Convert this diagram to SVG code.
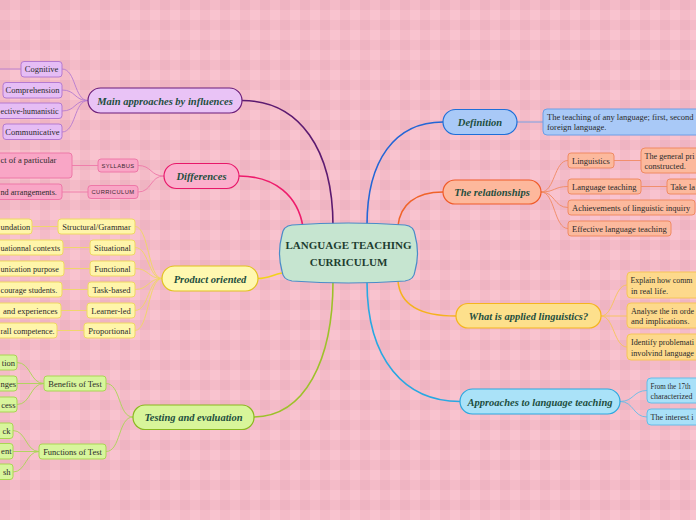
<svg xmlns="http://www.w3.org/2000/svg" width="696" height="520" viewBox="0 0 696 520">
<defs>
<pattern id="plaid" width="20" height="20" patternUnits="userSpaceOnUse">
<rect width="20" height="20" fill="#f9c3cf"/>
<rect x="0" y="0" width="10" height="20" fill="#c97a90" fill-opacity="0.1"/>
<rect x="0" y="0" width="20" height="10" fill="#c97a90" fill-opacity="0.1"/>
</pattern>
<style>
.main{font-family:"Liberation Serif",serif;font-style:italic;font-weight:bold;font-size:10.5px;fill:#1d4e3e;text-anchor:middle}
.sub{font-family:"Liberation Serif",serif;font-size:8.5px;fill:#2a2a2a}
.cut{font-size:8.2px}
.mid{text-anchor:middle}
.end{text-anchor:end}
.caps{font-family:"Liberation Sans",sans-serif;font-size:5.8px;letter-spacing:0.4px;fill:#3a2a30;text-anchor:middle}
.conn path{fill:none}
.mc{stroke-width:1.6}
.sc{stroke-width:0.9}
</style>
</defs>
<rect width="696" height="520" fill="url(#plaid)"/>

<g id="connectors" class="conn">
<path class="mc" stroke="#5c1a70" d="M242,100.5 C300,100.5 333,150 333,226"/>
<path class="mc" stroke="#ee1c6c" d="M239,176 C275,176 298,196 303,227"/>
<path class="mc" stroke="#f2d21b" d="M258,278.5 C268,278.5 272,275 282,273"/>
<path class="mc" stroke="#9dc12a" d="M253,417 C305,417 333,360 333,281"/>
<path class="mc" stroke="#2366d6" d="M443,122 C395,122 367,160 367,225"/>
<path class="mc" stroke="#f0642a" d="M443,192 C415,192 400,205 398,226"/>
<path class="mc" stroke="#f5b21d" d="M456,316 C420,316 400,305 398,281"/>
<path class="mc" stroke="#28a8e2" d="M460,401.5 C405,401.5 367,360 367,282"/>
<g stroke="#b57ad0" class="sc">
<path d="M88,100.5 C74,100.5 76,69 62,69"/>
<path d="M88,100.5 C74,100.5 76,90 62,90"/>
<path d="M88,100.5 C74,100.5 76,111 62,111"/>
<path d="M88,100.5 C74,100.5 76,132 62,132"/>
<path d="M0,69 L21,69"/>
</g>
<g stroke="#ee78a8" class="sc">
<path d="M164,176 C150,176 152,165.5 138,165.5"/>
<path d="M164,176 C150,176 152,192 138,192"/>
<path d="M98,165.5 L72,165.5"/>
<path d="M88,192 L62,192"/>
</g>
<g stroke="#efd862" class="sc">
<path d="M162,278.5 C148,278.5 149,226.5 135,226.5"/>
<path d="M162,278.5 C148,278.5 149,247.5 135,247.5"/>
<path d="M162,278.5 C148,278.5 149,268.5 135,268.5"/>
<path d="M162,278.5 C148,278.5 149,289.5 135,289.5"/>
<path d="M162,278.5 C148,278.5 149,310.5 135,310.5"/>
<path d="M162,278.5 C148,278.5 149,330.5 135,330.5"/>
<path d="M58,226.5 L32,226.5"/>
<path d="M90,247.5 L63,247.5"/>
<path d="M90,268.5 L64,268.5"/>
<path d="M88,289.5 L62,289.5"/>
<path d="M87,310.5 L61,310.5"/>
<path d="M84,330.5 L57,330.5"/>
</g>
<g stroke="#a9d653" class="sc">
<path d="M133,417 C118,417 121,383.5 106,383.5"/>
<path d="M133,417 C118,417 121,451.5 106,451.5"/>
<path d="M44,383.5 C30,383.5 31,362.5 17,362.5"/>
<path d="M44,383.5 L17,383.5"/>
<path d="M44,383.5 C30,383.5 31,404.5 17,404.5"/>
<path d="M39,451.5 C26,451.5 26,430.5 13,430.5"/>
<path d="M39,451.5 L13,451.5"/>
<path d="M39,451.5 C26,451.5 26,472 13,472"/>
</g>
<path class="sc" stroke="#6c9ee6" d="M517,122 L543,122"/>
<g stroke="#f08a62" class="sc">
<path d="M541,192 C555,192 554,160.5 568,160.5"/>
<path d="M541,192 C555,192 554,186.5 568,186.5"/>
<path d="M541,192 C555,192 554,207.5 568,207.5"/>
<path d="M541,192 C555,192 554,228.5 568,228.5"/>
<path d="M614,160.5 L641,160.5"/>
<path d="M641,186.5 L667,186.5"/>
</g>
<g stroke="#f6c458" class="sc">
<path d="M601,316 C614,316 614,285 627,285"/>
<path d="M601,316 L627,316"/>
<path d="M601,316 C614,316 614,347 627,347"/>
</g>
<g stroke="#65bce8" class="sc">
<path d="M620,401.5 C634,401.5 633,390.5 647,390.5"/>
<path d="M620,401.5 C634,401.5 633,417 647,417"/>
</g>
</g>

<g id="center">
<path d="M292,225 Q348,221 405,225 Q414,226 415,235 Q420,253 415,271 Q414,280 405,281 Q348,285 292,281 Q283,280 282,271 Q277,253 282,235 Q283,226 292,225 Z" fill="#c6e5d0" stroke="#4a8cc8" stroke-width="1.2"/>
<text x="348.5" y="249" style="font-family:'Liberation Serif',serif;font-weight:bold;font-size:11px;fill:#1d3d2f;text-anchor:middle">LANGUAGE TEACHING</text>
<text x="348.5" y="265.5" style="font-family:'Liberation Serif',serif;font-weight:bold;font-size:11px;fill:#1d3d2f;text-anchor:middle">CURRICULUM</text>
</g>

<g id="main-approaches">
<rect x="88" y="88" width="154" height="25" rx="12.5" fill="#e9c3f6" stroke="#6b1d7a" stroke-width="1.2"/>
<text class="main" x="165" y="104.5">Main approaches by influences</text>
</g>
<g id="ma-cognitive"><rect x="21" y="61.5" width="41" height="15.5" rx="3" fill="#e6bdf5" stroke="#b57ad0"/><text class="sub mid" x="41.5" y="72">Cognitive</text></g>
<g id="ma-comprehension"><rect x="3" y="82.5" width="59" height="15.5" rx="3" fill="#e6bdf5" stroke="#b57ad0"/><text class="sub mid" x="32.5" y="93">Comprehension</text></g>
<g id="ma-affective"><rect x="-12" y="103" width="74" height="15.5" rx="3" fill="#e6bdf5" stroke="#b57ad0"/><text class="sub cut" x="0.5" y="113.5">ective-humanistic</text></g>
<g id="ma-communicative"><rect x="3" y="124" width="59" height="15.5" rx="3" fill="#e6bdf5" stroke="#b57ad0"/><text class="sub mid" x="32.5" y="134.5">Communicative</text></g>

<g id="differences">
<rect x="164" y="163.5" width="75" height="25" rx="12.5" fill="#fbb0cc" stroke="#e8176a" stroke-width="1.2"/>
<text class="main" x="201.5" y="180">Differences</text>
</g>
<g id="diff-syllabus"><rect x="98" y="159" width="40" height="13" rx="3" fill="#f9a6c6" stroke="#ee78a8"/><text class="caps" x="118" y="167.6">SYLLABUS</text></g>
<g id="diff-curriculum"><rect x="88" y="185.5" width="50" height="13" rx="3" fill="#f9a6c6" stroke="#ee78a8"/><text class="caps" x="113" y="194.1">CURRICULUM</text></g>
<g id="diff-syllabus-text"><rect x="-12" y="153" width="84" height="25" rx="3" fill="#f9a6c6" stroke="#ee78a8"/><text class="sub" x="0.5" y="162.5">ct of a particular</text></g>
<g id="diff-curriculum-text"><rect x="-12" y="184" width="74" height="15.5" rx="3" fill="#f9a6c6" stroke="#ee78a8"/><text class="sub cut" x="0.5" y="194.5">nd arrangements.</text></g>

<g id="product">
<rect x="162" y="266" width="96" height="25" rx="12.5" fill="#fff8b0" stroke="#e2c21e" stroke-width="1.2"/>
<text class="main" x="210" y="282.5">Product oriented</text>
</g>
<g id="po-structural"><rect x="58" y="219" width="77" height="15" rx="3" fill="#fff5aa" stroke="#efd862"/><text class="sub mid" x="96.5" y="229.5">Structural/Grammar</text></g>
<g id="po-situational"><rect x="90" y="240" width="45" height="15" rx="3" fill="#fff5aa" stroke="#efd862"/><text class="sub mid" x="112.5" y="250.5">Situational</text></g>
<g id="po-functional"><rect x="90" y="261" width="45" height="15" rx="3" fill="#fff5aa" stroke="#efd862"/><text class="sub mid" x="112.5" y="271.5">Functional</text></g>
<g id="po-task"><rect x="88" y="282" width="47" height="15" rx="3" fill="#fff5aa" stroke="#efd862"/><text class="sub mid" x="111.5" y="292.5">Task-based</text></g>
<g id="po-learner"><rect x="87" y="303" width="48" height="15" rx="3" fill="#fff5aa" stroke="#efd862"/><text class="sub mid" x="111" y="313.5">Learner-led</text></g>
<g id="po-proportional"><rect x="84" y="323" width="51" height="15" rx="3" fill="#fff5aa" stroke="#efd862"/><text class="sub mid" x="109.5" y="333.5">Proportional</text></g>
<g id="po-structural-text"><rect x="-12" y="219" width="44" height="15" rx="3" fill="#fff5aa" stroke="#efd862"/><text class="sub" x="0.5" y="229.5">undation</text></g>
<g id="po-situational-text"><rect x="-12" y="240" width="75" height="15" rx="3" fill="#fff5aa" stroke="#efd862"/><text class="sub cut" x="0.5" y="250.5">uationnal contexts</text></g>
<g id="po-functional-text"><rect x="-12" y="261" width="76" height="15" rx="3" fill="#fff5aa" stroke="#efd862"/><text class="sub cut" x="0.5" y="271.5">unication purpose</text></g>
<g id="po-task-text"><rect x="-12" y="282" width="74" height="15" rx="3" fill="#fff5aa" stroke="#efd862"/><text class="sub cut" x="0.5" y="292.5">courage students.</text></g>
<g id="po-learner-text"><rect x="-12" y="303" width="73" height="15" rx="3" fill="#fff5aa" stroke="#efd862"/><text class="sub end" x="57.5" y="313.5">and experiences</text></g>
<g id="po-proportional-text"><rect x="-12" y="323" width="69" height="15" rx="3" fill="#fff5aa" stroke="#efd862"/><text class="sub cut" x="0.5" y="333.5">rall competence.</text></g>

<g id="testing">
<rect x="133" y="405" width="121" height="24.5" rx="12" fill="#d8f59a" stroke="#8ab81e" stroke-width="1.2"/>
<text class="main" x="193.5" y="421">Testing and evaluation</text>
</g>
<g id="te-benefits"><rect x="44" y="376" width="62" height="15" rx="3" fill="#d8f59c" stroke="#a9d653"/><text class="sub mid" x="75" y="386.5">Benefits of Test</text></g>
<g id="te-functions"><rect x="39" y="444" width="67" height="15" rx="3" fill="#d8f59c" stroke="#a9d653"/><text class="sub mid" x="72.5" y="454.5">Functions of Test</text></g>
<g id="te-b1"><rect x="-12" y="355" width="29" height="15" rx="3" fill="#d8f59c" stroke="#a9d653"/><text class="sub end" x="15" y="365.5">tion</text></g>
<g id="te-b2"><rect x="-12" y="376" width="29" height="15" rx="3" fill="#d8f59c" stroke="#a9d653"/><text class="sub end" x="16" y="386.5">nges</text></g>
<g id="te-b3"><rect x="-12" y="397" width="29" height="15" rx="3" fill="#d8f59c" stroke="#a9d653"/><text class="sub end" x="15.5" y="407.5">cess</text></g>
<g id="te-f1"><rect x="-12" y="423" width="25" height="15.5" rx="3" fill="#d8f59c" stroke="#a9d653"/><text class="sub end" x="10.5" y="433.5">ck</text></g>
<g id="te-f2"><rect x="-12" y="443.5" width="25" height="15.5" rx="3" fill="#d8f59c" stroke="#a9d653"/><text class="sub end" x="11.5" y="454">ent</text></g>
<g id="te-f3"><rect x="-12" y="464" width="25" height="15.5" rx="3" fill="#d8f59c" stroke="#a9d653"/><text class="sub end" x="10.5" y="474.5">sh</text></g>

<g id="definition">
<rect x="443" y="109.5" width="74" height="25" rx="12.5" fill="#a9c9f7" stroke="#1f6fd8" stroke-width="1.2"/>
<text class="main" x="480" y="126">Definition</text>
</g>
<g id="def-text"><rect x="543" y="109" width="170" height="26" rx="4" fill="#a9c9f7" stroke="#6c9ee6"/><text class="sub" x="547" y="119.5">The teaching of any language; first, second</text><text class="sub" x="547" y="130">foreign language.</text></g>

<g id="relationships">
<rect x="443" y="180" width="98" height="24" rx="12" fill="#fdb89c" stroke="#f05a28" stroke-width="1.2"/>
<text class="main" x="492" y="196">The relationships</text>
</g>
<g id="rel-linguistics"><rect x="568" y="153" width="46" height="15" rx="3" fill="#fcb99d" stroke="#f08a62"/><text class="sub" x="572" y="163.5">Linguistics</text></g>
<g id="rel-linguistics-text"><rect x="641" y="148" width="70" height="25" rx="4" fill="#fcb99d" stroke="#f08a62"/><text class="sub" x="644.5" y="158.5" textLength="50" lengthAdjust="spacingAndGlyphs">The general pri</text><text class="sub" x="644.5" y="169">constructed.</text></g>
<g id="rel-teaching"><rect x="568" y="179" width="73" height="15" rx="3" fill="#fcb99d" stroke="#f08a62"/><text class="sub" x="572" y="189.5">Language teaching</text></g>
<g id="rel-teaching-text"><rect x="667" y="179" width="40" height="15" rx="3" fill="#fcb99d" stroke="#f08a62"/><text class="sub" x="670.5" y="189.5" textLength="24.5" lengthAdjust="spacingAndGlyphs">Take la</text></g>
<g id="rel-achievements"><rect x="568" y="200" width="127" height="15" rx="3" fill="#fcb99d" stroke="#f08a62"/><text class="sub" x="572" y="210.5">Achievements of linguistic inquiry</text></g>
<g id="rel-effective"><rect x="568" y="221" width="103" height="15" rx="3" fill="#fcb99d" stroke="#f08a62"/><text class="sub" x="572" y="231.5">Effective language teaching</text></g>

<g id="applied">
<rect x="456" y="303.5" width="145" height="24.5" rx="12" fill="#fde08c" stroke="#f5b41e" stroke-width="1.2"/>
<text class="main" x="528.5" y="320">What is applied linguistics?</text>
</g>
<g id="ap-1"><rect x="627" y="272" width="80" height="26" rx="4" fill="#fdd98c" stroke="#f6c458"/><text class="sub" x="630.5" y="283" textLength="62" lengthAdjust="spacingAndGlyphs">Explain how comm</text><text class="sub" x="631" y="293.5">in real life.</text></g>
<g id="ap-2"><rect x="627" y="303" width="80" height="25" rx="4" fill="#fdd98c" stroke="#f6c458"/><text class="sub" x="631" y="313.5" textLength="63" lengthAdjust="spacingAndGlyphs">Analyse the in orde</text><text class="sub" x="631" y="324">and implications.</text></g>
<g id="ap-3"><rect x="627" y="334" width="80" height="26" rx="4" fill="#fdd98c" stroke="#f6c458"/><text class="sub" x="631" y="345" textLength="63" lengthAdjust="spacingAndGlyphs">Identify problemati</text><text class="sub" x="631" y="355.5" textLength="63" lengthAdjust="spacingAndGlyphs">involvind language</text></g>

<g id="approaches">
<rect x="460" y="389" width="160" height="25" rx="12.5" fill="#aae2f8" stroke="#2aa8e0" stroke-width="1.2"/>
<text class="main" x="540" y="405.5">Approaches to language teaching</text>
</g>
<g id="apr-1"><rect x="647" y="378" width="60" height="25" rx="4" fill="#a9e0f8" stroke="#65bce8"/><text class="sub" x="650.5" y="388.5" textLength="40" lengthAdjust="spacingAndGlyphs">From the 17th</text><text class="sub" x="650.5" y="398.5" textLength="42" lengthAdjust="spacingAndGlyphs">characterized</text></g>
<g id="apr-2"><rect x="647" y="409" width="60" height="16" rx="4" fill="#a9e0f8" stroke="#65bce8"/><text class="sub" x="650.5" y="420" textLength="43" lengthAdjust="spacingAndGlyphs">The interest i</text></g>
</svg>
